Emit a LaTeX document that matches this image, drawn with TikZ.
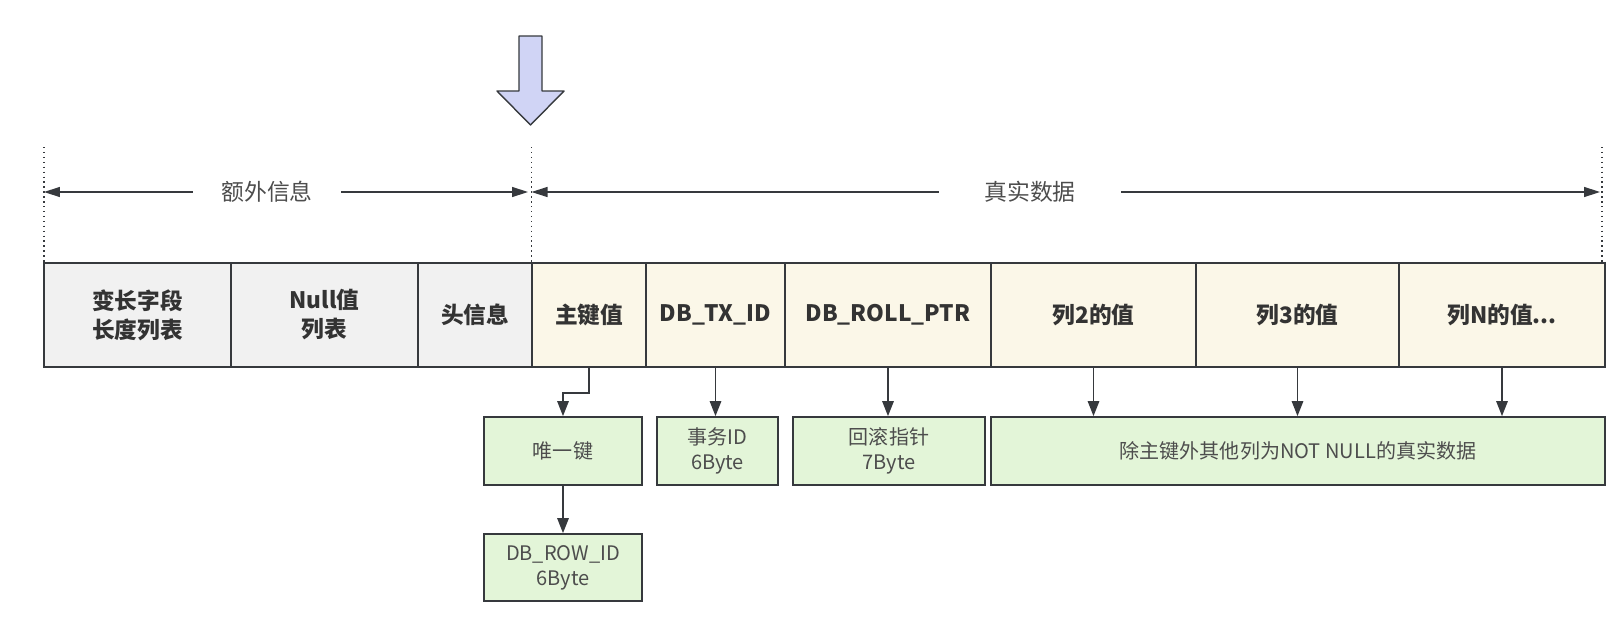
\documentclass[tikz,border=0pt]{standalone}
\usepackage{fontspec}
\setmainfont{Noto Sans CJK SC}
\usetikzlibrary{arrows.meta}

\definecolor{linegray}{HTML}{36393D}
\definecolor{textdark}{HTML}{333333}
\definecolor{textgray}{HTML}{4D4D4D}
\definecolor{graybg}{HTML}{F1F1F1}
\definecolor{creambg}{HTML}{FBF7E8}
\definecolor{greenbg}{HTML}{E3F5D8}
\definecolor{lavender}{HTML}{D0D4F5}

\begin{document}
\begin{tikzpicture}[x=0.02cm,y=-0.02cm,
    field/.style={draw=linegray,line width=1pt,minimum height=2.08cm,inner sep=0pt,
      align=center,text=textdark,font=\fontsize{12.9}{16.5}\selectfont\bfseries},
    note/.style={draw=linegray,line width=1pt,fill=greenbg,minimum height=1.36cm,inner sep=0pt,
      align=center,text=textgray,font=\fontsize{11.4}{14.2}\selectfont},
    conn/.style={draw=linegray,line width=0.8pt,-{Triangle[length=0.3cm,width=0.23cm]}},
    dim/.style={draw=linegray,line width=0.8pt,-{Triangle[length=0.32cm,width=0.2cm]}},
    guide/.style={draw=linegray,line width=0.8pt,dotted}]

      \useasboundingbox (0,0) rectangle (1615,622);

      % big pointer arrow
      \draw[draw=linegray,line width=0.8pt,fill=lavender,line join=round]
        (519,36) -- (542,36) -- (542,91) -- (564,91) -- (530.5,125)
        -- (497,91) -- (519,91) -- cycle;

      % row fields
      \begin{scope}[every node/.style={field,fill=graybg}]
        \node (vl) [minimum width=3.74cm] at (137.5,315) {变长字段\\长度列表};
        \node (nl) [minimum width=3.74cm] at (324.5,315) {Null值\\列表};
        \node (hd) [minimum width=2.28cm] at (475,315)   {头信息};
      \end{scope}

      \begin{scope}[every node/.style={field,fill=creambg}]
        \node (pk) [minimum width=2.28cm] at (589,315)    {主键值};
        \node (tx) [minimum width=2.78cm] at (715.5,315)  {DB\_TX\_ID};
        \node (rp) [minimum width=4.12cm] at (888,315)    {DB\_ROLL\_PTR};
        \node (c2) [minimum width=4.10cm] at (1093.5,315) {列2的值};
        \node (c3) [minimum width=4.06cm] at (1297.5,315) {列3的值};
        \node (cn) [minimum width=4.12cm] at (1502,315)   {列N的值...};
      \end{scope}

      % notes below
      \begin{scope}[every node/.style={note}]
        \node (uk)  [minimum width=3.16cm]  at (563,451)   {唯一键};
        \node (txd) [minimum width=2.42cm]  at (717.5,451) {事务ID\\6Byte};
        \node (rpd) [minimum width=3.84cm]  at (889,451)   {回滚指针\\7Byte};
        \node (nn)  [minimum width=12.28cm] at (1298,451)  {除主键外其他列为NOT NULL的真实数据};
        \node (rid) [minimum width=3.16cm,minimum height=1.34cm] at (563,567.5) {DB\_ROW\_ID\\6Byte};
      \end{scope}

      % dimension marks
      \coordinate (m1) at (44,147);
      \coordinate (m2) at (531.5,147);
      \coordinate (m3) at (1602,147);
      \draw[guide] (m1) -- (m1 |- vl.north);
      \draw[guide] (m2) -- (m2 |- pk.north);
      \draw[guide] (m3) -- (m3 |- cn.north);

      \begin{scope}[every node/.style={text=textgray,inner sep=0pt,minimum height=0.6cm,
          font=\fontsize{13}{15}\selectfont}]
        \node (extra) [minimum width=2.96cm] at (267,192)  {额外信息};
        \node (real)  [minimum width=3.64cm] at (1030,192) {真实数据};
      \end{scope}

      \coordinate (e1) at (44,192);
      \coordinate (e2) at (528,192);
      \coordinate (r1) at (531.5,192);
      \coordinate (r2) at (1600,192);
      \draw[dim] (extra.west) -- (e1);
      \draw[dim] (extra.east) -- (e2);
      \draw[dim] (real.west)  -- (r1);
      \draw[dim] (real.east)  -- (r2);

      % connectors
      \draw[conn] (pk.south) -- ++(0,25) -| (uk.north);
      \draw[conn] (uk.south)  -- (rid.north);
      \draw[conn] (tx.south)  -- (tx.south |- txd.north);
      \draw[conn] (rp.south)  -- (rp.south |- rpd.north);
      \draw[conn] (c2.south)  -- (c2.south |- nn.north);
      \draw[conn] (c3.south)  -- (c3.south |- nn.north);
      \draw[conn] (cn.south)  -- (cn.south |- nn.north);

    \end{tikzpicture}
\end{document}
